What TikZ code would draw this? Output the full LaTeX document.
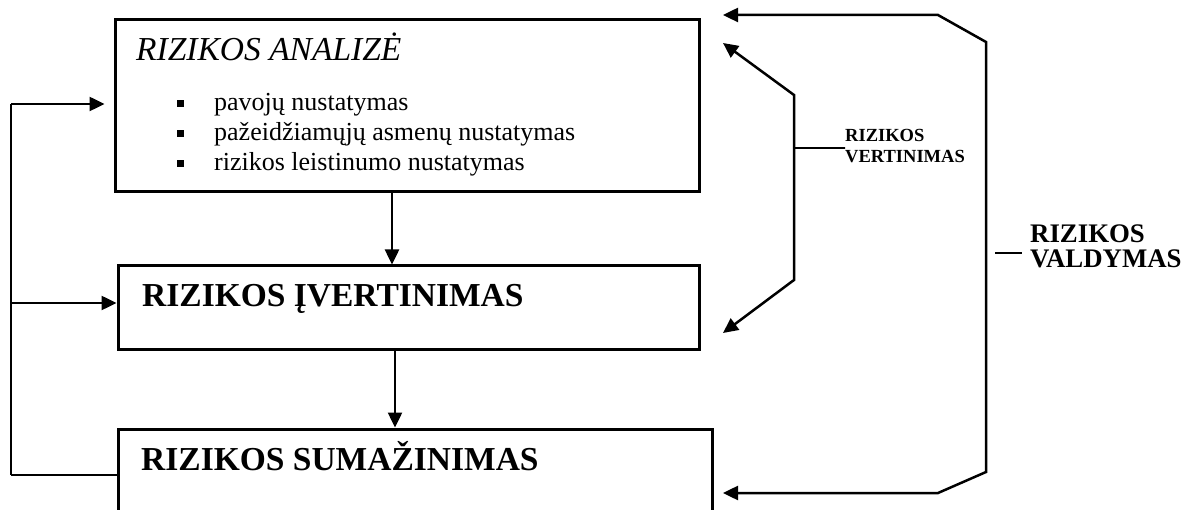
\documentclass[tikz,border=0pt]{standalone}
\usepackage{fontspec}
\setmainfont{Liberation Serif}
\usetikzlibrary{arrows.meta}
\tikzset{
  box/.style={draw, line width=3pt, rectangle, inner sep=0pt},
  ln/.style={line width=2.5pt, line join=miter},
  arr/.style={ln, -{Triangle[length=15pt,width=14pt]}},
  arrtwo/.style={ln, {Triangle[length=15pt,width=14pt]}-{Triangle[length=15pt,width=14pt]}},
  bul/.style={fill, rectangle, minimum size=7pt, inner sep=0pt},
  txt/.style={anchor=base west, inner sep=0pt},
}
\begin{document}
\begin{tikzpicture}[x=1pt,y=-1pt]
\useasboundingbox (0,0) rectangle (1191,510);
\clip (0,0) rectangle (1191,510);
% boxes
\node[box, minimum width=584pt, minimum height=172pt] (b1) at (407,106) {};
\node[box, minimum width=581pt, minimum height=84pt] (b2) at (408.5,308) {};
\node[box, minimum width=594pt, minimum height=111pt] (b3) at (415,484.5) {};
% texts in boxes
\node[txt, font=\fontsize{33.5}{37}\selectfont\itshape] (t1) at (136,61) {RIZIKOS ANALIZĖ};
\node[bul] (p1) at (180,104) {};
\node[bul] (p2) at (180,134) {};
\node[bul] (p3) at (180,164) {};
\node[txt, font=\fontsize{26}{30}\selectfont] (s1) at (214,111) {pavojų nustatymas};
\node[txt, font=\fontsize{26}{30}\selectfont] (s2) at (214,141) {pažeidžiamųjų asmenų nustatymas};
\node[txt, font=\fontsize{26}{30}\selectfont] (s3) at (214,171) {rizikos leistinumo nustatymas};
\node[txt, font=\fontsize{33.5}{37}\selectfont\bfseries] (t2) at (142,307) {RIZIKOS ĮVERTINIMAS};
\node[txt, font=\fontsize{33.5}{37}\selectfont\bfseries] (t3) at (141,470) {RIZIKOS SUMAŽINIMAS};
% side labels
\node[txt, font=\fontsize{18.5}{21}\selectfont\bfseries] (v1) at (845,142) {RIZIKOS};
\node[txt, font=\fontsize{18.5}{21}\selectfont\bfseries] (v2) at (845,163) {VERTINIMAS};
\node[txt, font=\fontsize{26.8}{29}\selectfont\bfseries] (w1) at (1030,243) {RIZIKOS};
\node[txt, font=\fontsize{26.8}{29}\selectfont\bfseries] (w2) at (1030,268) {VALDYMAS};
% vertical arrows between boxes
\coordinate (c1) at (392,0);
\coordinate (c2) at (395,0);
\draw[arr] (b1.south -| c1) -- (b2.north -| c1);
\draw[arr] (b2.south -| c2) -- (b3.north -| c2);
% left feedback
\coordinate (L1) at (11,104);
\coordinate (L2) at (11,303);
\coordinate (L3) at (11,475);
\draw[ln] (L1) -- (L3);
\draw[arr, shorten >=9pt] (L1) -- (L1 -| b1.west);
\draw[arr] (L2) -- (L2 -| b2.west);
\draw[ln] (L3) -- (L3 -| b3.west);
% rizikos vertinimas bracket
\coordinate (va) at (723,43);
\coordinate (vb) at (794,95);
\coordinate (vc) at (794,280);
\coordinate (vd) at (723,333);
\coordinate (vs) at (794,148);
\draw[arrtwo] (va) -- (vb) -- (vc) -- (vd);
\draw[ln] (vs) -- (v1.west |- vs) -- +(-5,0);
% rizikos valdymas bracket
\coordinate (ka) at (723,15);
\coordinate (kb) at (938,15);
\coordinate (kc) at (986,42);
\coordinate (kd) at (986,472);
\coordinate (ke) at (938,493);
\coordinate (kf) at (723,493);
\draw[arrtwo] (ka) -- (kb) -- (kc) -- (kd) -- (ke) -- (kf);
\coordinate (ws) at (995,253);
\coordinate (we) at (1022,253);
\draw[ln] (ws) -- (we);
\end{tikzpicture}
\end{document}
